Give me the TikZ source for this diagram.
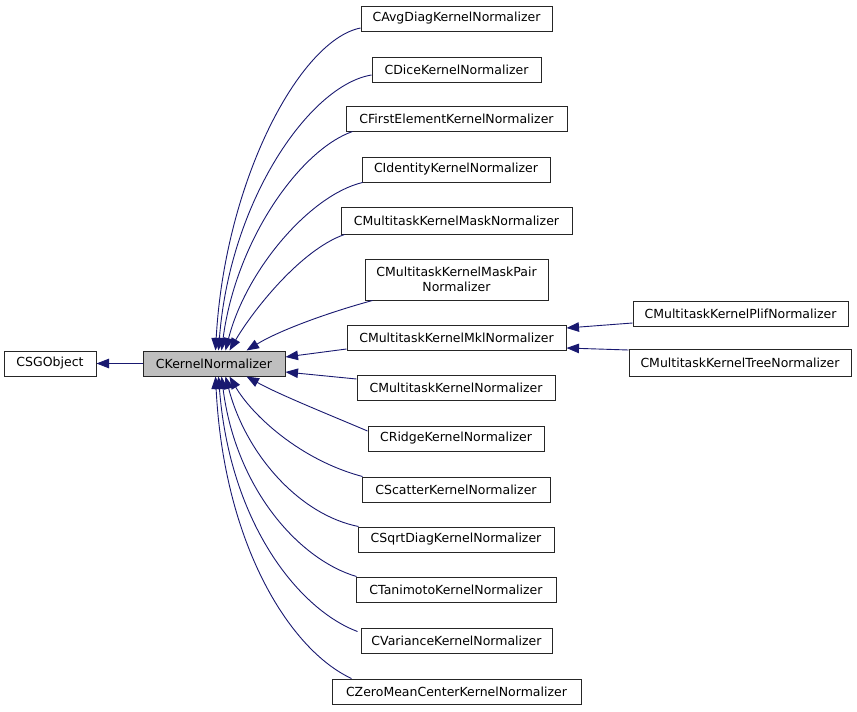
\documentclass[tikz,border=0pt]{standalone}
\usepackage{fontspec}
\setmainfont{DejaVu Sans}
\usetikzlibrary{arrows.meta}
\definecolor{edgeblue}{HTML}{191970}
\definecolor{boxgrey}{HTML}{BFBFBF}
\tikzset{
  cls/.style={draw=black!85, line width=1pt, fill=white, minimum height=25pt, inner sep=0pt, align=center, font=\fontsize{12.5}{14.6}\selectfont},
  inh/.style={draw=edgeblue, line width=0.9pt, -{Triangle[length=12.5pt,width=9.5pt]}},
}
\begin{document}
\begin{tikzpicture}[x=1pt,y=-1pt]
\useasboundingbox (0,0) rectangle (857,712);
\node[cls, minimum width=92pt] (sg) at (50,363.5) {CSGObject};
\node[cls, minimum width=142pt, fill=boxgrey] (kn) at (214,363.5) {CKernelNormalizer};
\node[cls, minimum width=191pt] (avg) at (456.5,18.5) {CAvgDiagKernelNormalizer};
\node[cls, minimum width=169pt] (dice) at (456.5,69.5) {CDiceKernelNormalizer};
\node[cls, minimum width=221pt] (first) at (456.5,118.5) {CFirstElementKernelNormalizer};
\node[cls, minimum width=188pt] (ident) at (456,169.5) {CIdentityKernelNormalizer};
\node[cls, minimum width=231pt, minimum height=27pt] (mask) at (456.5,220.5) {CMultitaskKernelMaskNormalizer};
\node[cls, minimum width=183pt, minimum height=41pt] (pair) at (456.5,279.5) {CMultitaskKernelMaskPair\\Normalizer};
\node[cls, minimum width=219pt] (mkl) at (456.5,337.5) {CMultitaskKernelMklNormalizer};
\node[cls, minimum width=198pt] (mtk) at (456,387.5) {CMultitaskKernelNormalizer};
\node[cls, minimum width=176pt] (ridge) at (456,438.5) {CRidgeKernelNormalizer};
\node[cls, minimum width=188pt] (scat) at (456,489.5) {CScatterKernelNormalizer};
\node[cls, minimum width=196pt] (sqrt) at (456,539.5) {CSqrtDiagKernelNormalizer};
\node[cls, minimum width=200pt] (tani) at (456,589.5) {CTanimotoKernelNormalizer};
\node[cls, minimum width=191pt] (var) at (456.5,640.5) {CVarianceKernelNormalizer};
\node[cls, minimum width=249pt] (zero) at (456.5,691.5) {CZeroMeanCenterKernelNormalizer};
\node[cls, minimum width=215pt] (plif) at (740.5,313.5) {CMultitaskKernelPlifNormalizer};
\node[cls, minimum width=222pt, minimum height=27pt] (tree) at (740,362.5) {CMultitaskKernelTreeNormalizer};

% edges
\draw[inh] (kn.west) -- (sg.east);
\draw[inh] ([yshift=-9.5pt]avg.west) .. controls (300,40) and (225,180) .. ([xshift=73pt]kn.north west);
\draw[inh] ([yshift=-5.5pt]dice.west) .. controls (310,85) and (230,200) .. ([xshift=76pt]kn.north west);
\draw[inh] ([xshift=7pt]first.south west) .. controls (300,150) and (236,240) .. ([xshift=79pt]kn.north west);
\draw[inh] ([xshift=1pt]ident.south west) .. controls (310,195) and (246,270) .. ([xshift=83pt]kn.north west);
\draw[inh] ([xshift=4pt]mask.south west) .. controls (300,250) and (252,312) .. ([xshift=87pt]kn.north west);
\draw[inh] ([xshift=8pt]pair.south west) .. controls (330,312) and (280,330) .. ([xshift=104pt]kn.north west);
\draw[inh] ([yshift=-11.5pt]mkl.west) -- ([yshift=6.5pt]kn.east);
\draw[inh] ([yshift=8.5pt]mtk.west) -- ([yshift=-8.5pt]kn.east);
\draw[inh] ([yshift=7.5pt]ridge.west) .. controls (330,415) and (280,395) .. ([xshift=104pt]kn.south west);
\draw[inh] ([xshift=1pt]scat.north west) .. controls (300,460) and (252,415) .. ([xshift=87pt]kn.south west);
\draw[inh] ([xshift=1pt]sqrt.north west) .. controls (300,515) and (246,455) .. ([xshift=83pt]kn.south west);
\draw[inh] ([xshift=1pt]tani.north west) .. controls (300,560) and (236,490) .. ([xshift=79pt]kn.south west);
\draw[inh] ([xshift=-3pt,yshift=-4pt]var.north west) .. controls (300,610) and (230,525) .. ([xshift=76pt]kn.south west);
\draw[inh] ([xshift=20pt]zero.north west) .. controls (290,650) and (224,545) .. ([xshift=73pt]kn.south west);
\draw[inh] ([yshift=-9.5pt]plif.west) -- ([yshift=9.5pt]mkl.east);
\draw[inh] ([yshift=12.5pt]tree.west) -- ([yshift=-10.5pt]mkl.east);
\end{tikzpicture}
\end{document}
